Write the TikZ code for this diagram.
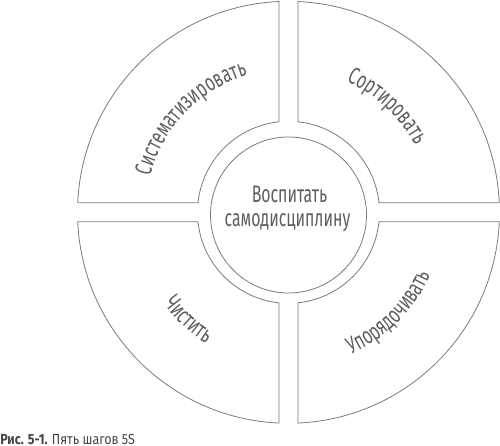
\documentclass[tikz,border=0pt]{standalone}
\usepackage{fontspec}
\setmainfont{Fira Sans}
\newfontfamily\lblfont[FakeStretch=0.66]{Fira Sans}
\newfontfamily\capfont[FakeStretch=0.85]{Fira Sans}
\usetikzlibrary{decorations.text}
\definecolor{linegray}{HTML}{7A7A7A}
\definecolor{textgray}{HTML}{5E5E5E}
\definecolor{captiongray}{HTML}{444444}
\newcommand{\lblsize}{\lblfont\fontsize{18}{20}\selectfont}
\begin{document}
\begin{tikzpicture}[x=0.75pt,y=0.75pt,
  quad/.style={draw=linegray, line width=0.6pt},
  core/.style={circle, draw=linegray, line width=0.6pt, minimum size=117pt, inner sep=0pt},
  maintext/.style={text=textgray, font=\lblsize, inner sep=0pt},
  arclabel/.style={decorate, decoration={text along path, text align=center, text color=textgray}}
]
\useasboundingbox (-288.5,-233.7) rectangle (211.5,212.3);
\def\Ro{211}
\def\Ri{91}
\def\dO{2.58}
\def\dI{5.99}
% four quadrants of the ring
\foreach \b in {0,90,180,270}{
  \draw[quad] (\b+90-\dO:\Ro) arc[start angle=\b+90-\dO, end angle=\b+\dO, radius=\Ro]
    -- (\b+\dI:\Ri) arc[start angle=\b+\dI, end angle=\b+90-\dI, radius=\Ri] -- cycle;
}
% centre circle
\node[core] (core) at (0,-2.7) {};
\node[maintext, anchor=base] (l1) at (1,9.6) {Воспитать};
\node[maintext, anchor=base] (l2) at (-1,-14.4) {самодисциплину};
% curved labels
\path[arclabel, decoration={text={|\lblsize|Систематизировать}}]
  (176:143) arc[start angle=176, end angle=96, radius=143];
\path[arclabel, decoration={text={|\lblsize|Сортировать}}]
  (87:143) arc[start angle=87, end angle=7, radius=143];
\path[arclabel, decoration={text={|\lblsize|Чистить}}]
  (187:155) arc[start angle=187, end angle=267, radius=155];
\path[arclabel, decoration={text={|\lblsize|Упорядочивать}}]
  (275:155) arc[start angle=275, end angle=355, radius=155];
% caption
\node[anchor=base west, inner sep=0pt, text=captiongray, font=\capfont\fontsize{11}{13}\selectfont] (cap)
  at (-288.5,-231.7) {\textbf{Рис. 5-1.} Пять шагов 5S};
\end{tikzpicture}
\end{document}
